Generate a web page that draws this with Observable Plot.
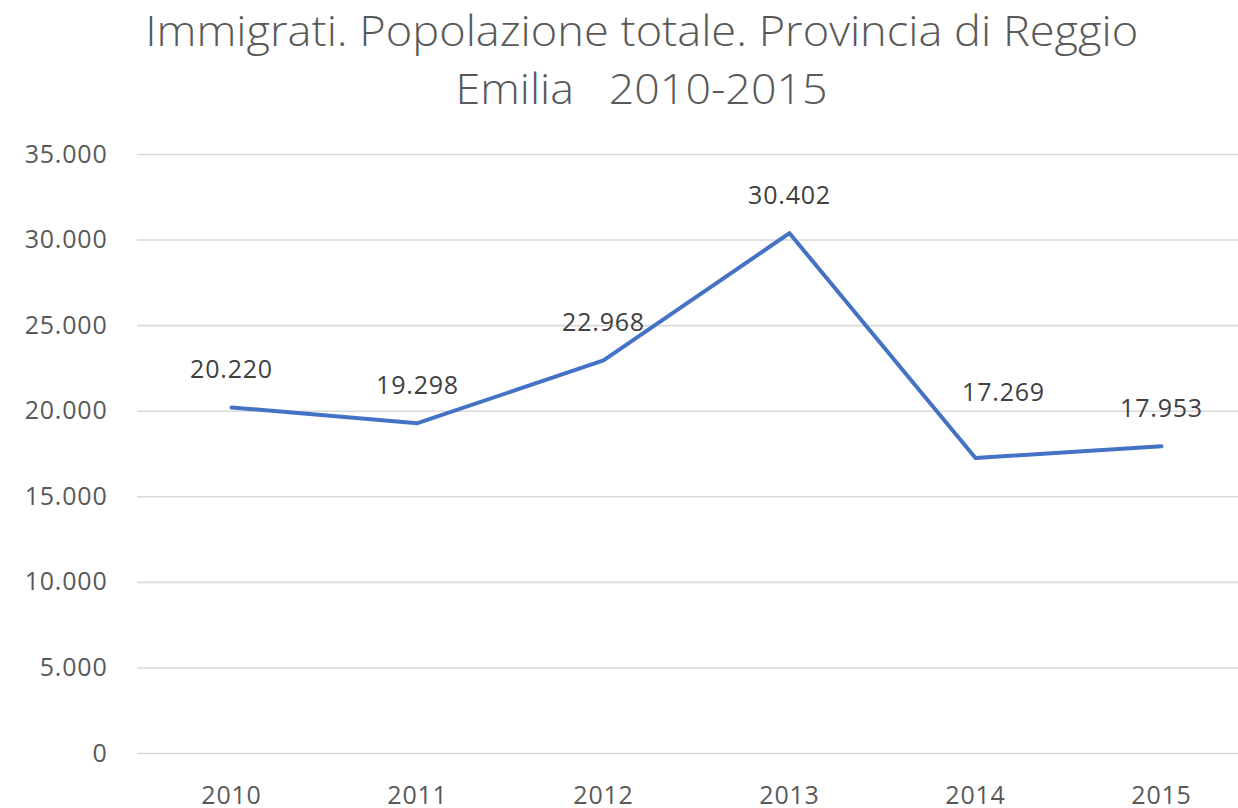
<!DOCTYPE html>
<html>
<head>
<meta charset="utf-8">
<script src="https://cdn.jsdelivr.net/npm/d3@7"></script>
<script src="https://cdn.jsdelivr.net/npm/@observablehq/plot@0.6"></script>
<style>
  html, body { margin: 0; padding: 0; background: #fff; }
  #wrap { position: relative; width: 1238px; height: 808px; overflow: hidden; }
  #title { position: absolute; left: 23px; top: 1px; width: 1238px; text-align: center;
    font-family: "Open Sans", sans-serif; font-weight: 300; font-size: 42px; line-height: 58px; color: #595959; }
  #title span { display: inline-block; transform-origin: center; white-space: pre; }
  #chart { position: absolute; left: 0; top: 0; }
  #chart text { letter-spacing: 0.8px; }
</style>
</head>
<body>
<div id="wrap">
  <div id="chart"></div>
  <div id="title"><span id="t1">Immigrati. Popolazione totale. Provincia di Reggio</span><br><span id="t2">Emilia   2010-2015</span></div>
</div>
<script>
const years = ["2010", "2011", "2012", "2013", "2014", "2015"];
const values = [20220, 19298, 22968, 30402, 17269, 17953];
const yTicks = [0, 5000, 10000, 15000, 20000, 25000, 30000, 35000];

const data = years.map((y, i) => ({year: y, value: values[i]}));
const fmt = d => d3.format(",")(d).replace(/,/g, ".");

const plot = Plot.plot({
  width: 1238,
  height: 808,
  marginLeft: 137,
  marginRight: 0,
  marginTop: 0,
  marginBottom: 55,
  style: {fontFamily: "'Open Sans', sans-serif", fontSize: "25px", color: "#595959", background: "#fff"},
  x: {type: "point", domain: years, range: [230, 1161], padding: 0, axis: null},
  y: {domain: [0, 35000], range: [753, 154], axis: null},
  marks: [
    Plot.ruleY(yTicks, {stroke: "#d9d9d9", strokeWidth: 1.6}),
    Plot.axisY({ticks: yTicks, tickSize: 0, tickPadding: 0, textAnchor: "end", dx: -30, tickFormat: fmt, fill: "#595959", fontSize: 25, label: null}),
    Plot.axisX({tickSize: 0, tickPadding: 33, anchor: "bottom", fill: "#595959", fontSize: 25, label: null}),
    Plot.line(data, {x: "year", y: "value", stroke: "#4472C4", strokeWidth: 4, strokeLinejoin: "round"}),
    Plot.text(data.filter(d => d.year !== "2014"), {x: "year", y: "value", text: d => fmt(d.value), dy: -37, fill: "#404040", fontSize: 25}),
    Plot.text(data.filter(d => d.year === "2014"), {x: "year", y: "value", text: d => fmt(d.value), dy: -65, dx: 28, fill: "#404040", fontSize: 25})
  ]
});
document.getElementById("chart").appendChild(plot);

function fit(id, target) {
  const el = document.getElementById(id);
  const w = el.getBoundingClientRect().width;
  el.style.transform = `scaleX(${target / w})`;
}
fit("t1", 993);
fit("t2", 372);
</script>
</body>
</html>
